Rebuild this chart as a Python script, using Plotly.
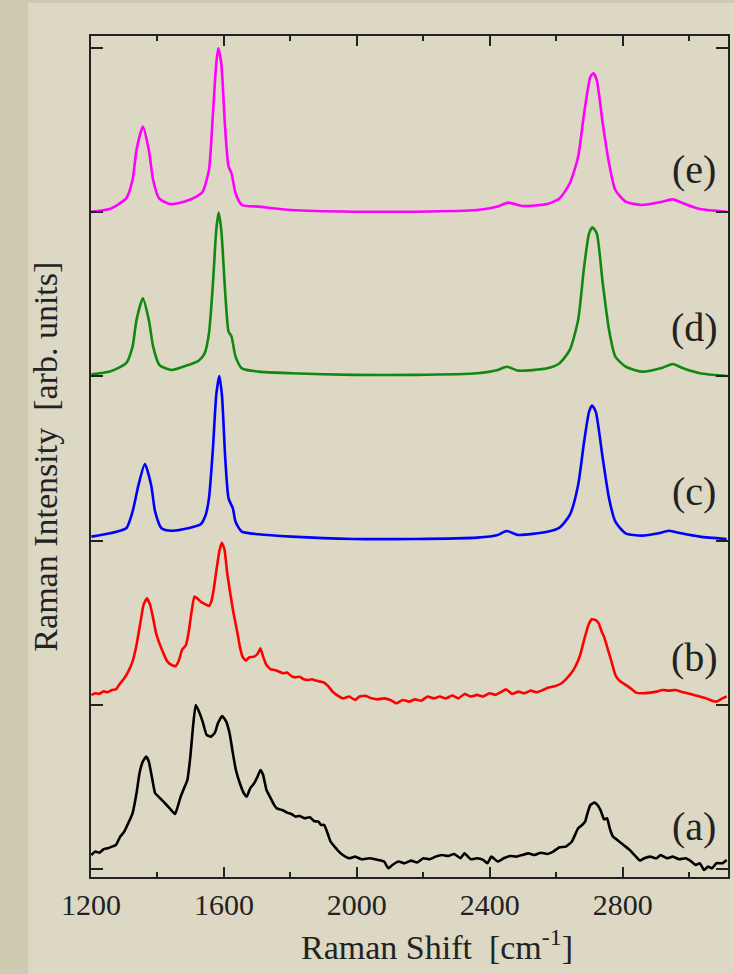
import plotly.graph_objects as go

# ---------------- data (Raman shift in cm-1, intensity relative to each spectrum baseline) -------------
x_e = [1200, 1256, 1306, 1325, 1337, 1356, 1374, 1387, 1405, 1437, 1480, 1517, 1536, 1555, 1567, 1577,
       1583, 1592, 1604, 1614, 1623, 1635, 1654, 1704, 1803, 1989, 2175, 2362, 2424, 2455, 2498, 2573,
       2610, 2641, 2666, 2684, 2703, 2712, 2722, 2740, 2759, 2778, 2809, 2858, 2920, 2951, 2982, 3032, 3113]
y_e = [0.003, 0.019, 0.084, 0.196, 0.379, 0.521, 0.379, 0.196, 0.084, 0.050, 0.064, 0.095, 0.125, 0.257,
       0.602, 0.907, 0.998, 0.907, 0.501, 0.278, 0.237, 0.115, 0.044, 0.034, 0.013, 0.003, 0.003, 0.013,
       0.034, 0.058, 0.038, 0.050, 0.084, 0.176, 0.338, 0.602, 0.825, 0.846, 0.805, 0.541, 0.298, 0.135,
       0.064, 0.044, 0.064, 0.078, 0.054, 0.019, 0.003]

zx_d = [15, 60, 100, 115, 125, 140, 155, 165, 180, 210, 250, 275, 290, 300, 310, 318, 324, 330, 340, 348,
        355, 365, 380, 420, 500, 650, 800, 950, 1000, 1022, 1050, 1120, 1150, 1175, 1195, 1210, 1222, 1230,
        1240, 1255, 1270, 1285, 1310, 1350, 1400, 1425, 1450, 1490, 1555]
x_d = [round(1182 + 1.2417 * v) for v in zx_d]
y_d = [0.012, 0.029, 0.080, 0.181, 0.344, 0.475, 0.344, 0.181, 0.069, 0.039, 0.069, 0.094, 0.140, 0.262,
       0.567, 0.892, 0.997, 0.892, 0.506, 0.273, 0.242, 0.120, 0.049, 0.029, 0.019, 0.009, 0.009, 0.019,
       0.039, 0.059, 0.035, 0.049, 0.080, 0.161, 0.344, 0.668, 0.871, 0.908, 0.871, 0.567, 0.282, 0.120,
       0.059, 0.029, 0.053, 0.075, 0.049, 0.019, 0.002]

zx_c = [15, 60, 100, 115, 130, 145, 160, 170, 185, 210, 250, 280, 292, 300, 310, 318, 325, 332, 340, 348,
        358, 365, 380, 420, 500, 650, 800, 950, 1000, 1022, 1050, 1120, 1150, 1175, 1195, 1210, 1222, 1229,
        1238, 1255, 1270, 1285, 1310, 1350, 1390, 1415, 1445, 1490, 1555]
x_c = [round(1182 + 1.2417 * v) for v in zx_c]
y_c = [0.024, 0.044, 0.075, 0.176, 0.339, 0.466, 0.339, 0.176, 0.075, 0.060, 0.075, 0.099, 0.156, 0.257,
       0.562, 0.887, 1.002, 0.887, 0.501, 0.257, 0.196, 0.115, 0.054, 0.038, 0.024, 0.010, 0.010, 0.018,
       0.034, 0.058, 0.034, 0.054, 0.079, 0.156, 0.339, 0.603, 0.785, 0.822, 0.785, 0.501, 0.257, 0.115,
       0.044, 0.030, 0.044, 0.060, 0.044, 0.024, 0.010]

# spectrum (b): (read position, read height) pairs
pts_b = [(15, 495), (25, 490), (35, 492), (45, 484), (55, 487), (65, 480), (75, 478), (85, 460), (95, 445),
         (105, 425), (115, 395), (125, 345), (135, 270), (142, 225), (150, 205), (158, 225), (165, 265),
         (172, 310), (180, 340), (190, 370), (200, 395), (210, 405), (220, 408), (228, 390), (235, 360),
         (245, 345), (252, 300), (258, 250), (265, 200), (272, 205), (280, 215), (290, 222), (300, 228),
         (306, 215), (312, 180), (320, 110), (326, 60), (332, 38), (338, 60), (345, 130), (352, 190),
         (360, 250), (368, 300), (375, 350), (382, 380), (390, 392), (398, 382), (410, 380), (418, 372),
         (425, 355), (432, 380), (440, 405), (450, 418), (460, 420), (470, 425), (480, 430), (490, 428),
         (500, 438), (510, 442), (520, 440), (530, 448), (540, 450), (550, 448), (560, 452), (570, 455),
         (580, 458), (590, 470), (600, 485), (610, 495), (625, 505), (640, 500), (655, 510), (665, 500),
         (680, 498), (695, 505), (710, 508), (725, 505), (740, 510), (755, 520), (770, 510), (785, 515),
         (800, 508), (815, 512), (830, 500), (845, 505), (860, 500), (875, 505), (890, 497), (905, 505),
         (920, 492), (935, 500), (950, 495), (965, 500), (980, 490), (995, 495), (1010, 485), (1020, 478),
         (1035, 492), (1050, 485), (1065, 490), (1080, 482), (1095, 487), (1110, 480), (1125, 472),
         (1140, 468), (1155, 460), (1165, 448), (1178, 430), (1190, 405), (1200, 375), (1210, 330),
         (1220, 285), (1228, 268), (1238, 270), (1245, 280), (1252, 305), (1258, 320), (1265, 350),
         (1275, 390), (1285, 435), (1295, 452), (1310, 465), (1322, 475), (1335, 488), (1350, 490),
         (1370, 488), (1385, 485), (1400, 480), (1415, 482), (1430, 480), (1445, 485), (1460, 490),
         (1475, 495), (1490, 500), (1505, 505), (1520, 512), (1530, 515), (1545, 505), (1555, 500)]
x_b = [round(1182 + 1.2417 * p[0]) for p in pts_b]
y_b = [round((524.4 - p[1]) / 492.6, 3) for p in pts_b]

# spectrum (a): (read position, read height) pairs
pts_a = [(15, 495), (25, 485), (35, 488), (45, 478), (55, 475), (65, 470), (75, 465), (85, 440), (95, 425),
         (105, 400), (115, 370), (125, 310), (132, 250), (140, 215), (148, 200), (155, 215), (162, 260),
         (170, 310), (178, 320), (190, 335), (205, 355), (218, 372), (225, 350), (232, 320), (240, 295),
         (248, 270), (255, 200), (262, 110), (268, 45), (275, 60), (285, 95), (295, 135), (305, 140),
         (315, 128), (322, 100), (333, 78), (342, 95), (350, 130), (358, 190), (366, 240), (375, 280),
         (385, 310), (392, 320), (400, 295), (410, 280), (418, 260), (425, 240), (432, 255), (440, 300),
         (450, 325), (458, 345), (465, 355), (478, 360), (490, 368), (500, 372), (510, 380), (520, 378),
         (532, 385), (545, 382), (555, 393), (565, 395), (573, 405), (580, 405), (588, 430), (595, 455),
         (605, 470), (615, 485), (625, 495), (640, 505), (655, 500), (670, 508), (690, 505), (710, 510),
         (725, 515), (735, 535), (745, 525), (760, 515), (775, 520), (790, 512), (805, 518), (820, 505),
         (835, 508), (850, 500), (865, 495), (880, 498), (895, 492), (910, 505), (920, 490), (935, 508),
         (950, 505), (965, 510), (975, 520), (985, 500), (1000, 515), (1015, 505), (1030, 498), (1045, 500),
         (1060, 495), (1075, 490), (1090, 495), (1105, 488), (1120, 492), (1135, 485), (1150, 472),
         (1165, 470), (1180, 455), (1195, 415), (1205, 405), (1212, 395), (1218, 370), (1225, 345),
         (1235, 338), (1242, 345), (1250, 362), (1258, 388), (1265, 385), (1272, 415), (1280, 440),
         (1290, 450), (1300, 460), (1310, 470), (1320, 480), (1335, 500), (1345, 512), (1355, 505),
         (1370, 500), (1385, 505), (1395, 495), (1410, 505), (1425, 500), (1440, 508), (1455, 505),
         (1470, 515), (1480, 525), (1490, 520), (1500, 540), (1510, 530), (1520, 535), (1530, 520),
         (1545, 520), (1555, 510)]
x_a = [round(1182 + 1.2417 * p[0]) for p in pts_a]
y_a = [round((537 - p[1]) / 492.6, 3) for p in pts_a]

spectra = [("(a)", x_a, y_a, "#000000", 0.4),
           ("(b)", x_b, y_b, "#ff0000", 0.4),
           ("(c)", x_c, y_c, "#0000ff", 0.6),
           ("(d)", x_d, y_d, "#118811", 0.6),
           ("(e)", x_e, y_e, "#ff00ff", 0.6)]
offsets = [0, 1, 2, 3, 4]
label_y = [0.26, 1.29, 2.30, 3.30, 4.26]
x_ticks = [1200, 1600, 2000, 2400, 2800]
y_ticks = [0, 1, 2, 3, 4, 5]

FONT = "Liberation Serif"
fig = go.Figure()
for (name, xs, ys, col, sm), off in zip(spectra, offsets):
    fig.add_trace(go.Scatter(x=xs, y=[v + off for v in ys], mode="lines",
                             line=dict(color=col, width=2.6, shape="spline", smoothing=sm),
                             showlegend=False, hoverinfo="skip"))
for (name, *_), ly in zip(spectra, label_y):
    fig.add_annotation(x=3015, y=ly, text=name, showarrow=False, xref="x", yref="y",
                       font=dict(family=FONT, size=40, color="#222"), xanchor="center", yanchor="middle")

fig.add_annotation(x=0.543, y=-0.081, xref="paper", yref="paper", showarrow=False,
                   text="Raman Shift  [cm<sup>-1</sup>]", xanchor="center", yanchor="middle",
                   font=dict(family=FONT, size=34, color="#222"))
fig.add_annotation(x=-0.072, y=0.50, xref="paper", yref="paper", showarrow=False, textangle=-90,
                   text="Raman Intensity  [arb. units]", xanchor="center", yanchor="middle",
                   font=dict(family=FONT, size=34, color="#222"))

fig.add_shape(type="rect", xref="paper", yref="paper", x0=-0.15, x1=-0.0986, y0=-0.2, y1=1.06,
              fillcolor="#cfcbb0", line=dict(width=0), layer="below")
fig.add_shape(type="rect", xref="paper", yref="paper", x0=-0.15, x1=1.02, y0=1.0392, y1=1.06,
              fillcolor="#cfcbb0", line=dict(width=0), layer="below")

fig.update_layout(
    width=734, height=974,
    margin=dict(l=91, r=4, t=36, b=97),
    paper_bgcolor="#dcd8c3", plot_bgcolor="#dcd8c3",
    font=dict(family=FONT, color="#222"),
    xaxis=dict(range=[1200, 3117], tickvals=x_ticks, ticktext=[str(v) for v in x_ticks],
               ticks="inside", ticklen=10, tickwidth=2, tickcolor="#222",
               minor=dict(dtick=200, tick0=1200, ticks="inside", ticklen=5, tickwidth=2, tickcolor="#222"),
               showline=True, linecolor="#222", linewidth=2, mirror="allticks",
               showgrid=False, zeroline=False, tickfont=dict(family=FONT, size=30, color="#222"),
               ticklabelstandoff=0),
    yaxis=dict(range=[-0.049, 5.073], tickvals=y_ticks, showticklabels=False,
               ticks="inside", ticklen=12, tickwidth=2, tickcolor="#222",
               showline=True, linecolor="#222", linewidth=2, mirror="allticks",
               showgrid=False, zeroline=False),
)
fig.write_html("out.html", config={"displayModeBar": False},
               post_script="document.body.style.margin='0';document.body.style.padding='0';")
